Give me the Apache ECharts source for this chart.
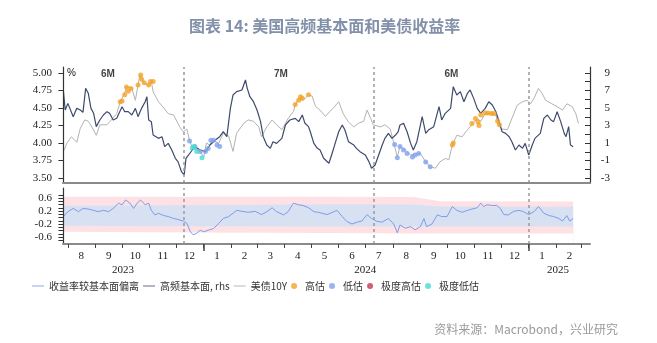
<!DOCTYPE html>
<html><head><meta charset="utf-8">
<script src="https://cdn.jsdelivr.net/npm/echarts@6/dist/echarts.min.js"></script>
<style>html,body{margin:0;padding:0;background:#fff}#c{width:657px;height:343px}</style>
</head><body><div id="c"></div>
<script>
// ---------- data (days counted from BASE date) ----------
const BASE = '2023-07-27';
const tenYDays = [0,4,9,15,19,24,28,32,37,41,49,54,60,64,69,71,77,81,84,86,91,96,99,101,107,113,118,124,131,135,139,142,146,154,158,161,165,167,175,180,186,191,195,203,208,214,220,223,229,235,240,246,253,259,261,265,270,276,280,284,289,295,300,304,310,315,321,327,332,338,342,346,349,357,362,368,372,376,379,385,391,398,402,408,413,419,424,430,434,438,443,449,455,460,466,470,475,481,487,490,494,500,505,511,517,522,526,530,535,539,543,550,556,562,567,573,577,580];
const tenYVals = [3.88,4.00,4.09,4.01,4.21,4.33,4.31,4.23,4.11,4.26,4.26,4.33,4.42,4.59,4.71,4.80,4.78,4.61,4.83,4.97,4.85,4.83,4.88,4.73,4.59,4.50,4.42,4.40,4.23,4.16,4.20,4.03,3.92,3.88,3.80,4.00,3.97,4.04,4.00,4.14,4.10,3.88,4.14,4.28,4.33,4.31,4.23,4.09,4.23,4.33,4.26,4.19,4.35,4.45,4.54,4.64,4.61,4.69,4.67,4.52,4.47,4.38,4.45,4.50,4.59,4.42,4.30,4.23,4.28,4.31,4.47,4.35,4.26,4.23,4.26,4.20,4.00,3.80,3.95,3.90,3.83,3.85,3.85,3.73,3.66,3.64,3.73,3.78,3.76,3.97,4.11,4.09,4.19,4.26,4.35,4.31,4.42,4.42,4.40,4.26,4.20,4.19,4.35,4.54,4.59,4.61,4.56,4.64,4.78,4.71,4.61,4.56,4.52,4.47,4.56,4.52,4.42,4.28];
const fundDays = [0,2,5,11,15,19,22,25,28,31,34,37,41,45,49,52,56,60,66,69,73,77,81,84,88,92,94,96,99,101,107,111,114,118,122,126,129,133,136,138,141,145,148,154,160,165,171,176,180,184,188,191,195,201,205,207,210,214,218,222,225,229,233,236,240,246,250,255,261,265,269,272,276,278,282,286,289,293,299,302,306,310,314,317,321,327,330,334,340,344,347,351,355,359,362,366,370,374,377,379,383,387,391,394,398,404,408,411,417,423,426,430,436,439,443,447,451,455,458,462,466,470,475,479,483,487,490,494,498,502,505,509,513,517,520,524,528,531,537,541,545,549,552,556,560,564,566,569,571,574];
const fundVals = [6.87,4.77,5.53,4.00,4.96,4.77,4.50,7.25,6.68,4.96,4.39,2.87,3.63,4.20,4.58,4.39,3.63,3.82,5.15,4.58,4.58,4.20,4.96,4.01,4.96,5.72,6.29,3.63,3.44,1.91,1.53,1.72,0.58,0.96,0.20,-0.75,-1.13,-2.28,-2.66,-0.75,-0.37,0.20,0.58,0.20,0.01,0.77,1.34,1.72,2.29,1.72,4.96,6.49,6.87,7.06,8.20,7.25,6.29,5.72,4.77,3.44,1.72,0.77,0.39,1.15,0.96,1.53,3.06,3.63,3.82,3.44,4.20,3.25,2.87,2.29,0.96,0.39,0.20,-0.75,-1.32,-0.37,0.96,2.29,3.06,2.48,1.15,0.77,0.39,0.01,-0.37,-1.13,-1.89,-1.51,-0.37,0.77,1.53,2.10,1.53,1.91,2.29,3.06,3.25,2.29,0.96,0.20,1.15,4.01,2.10,2.48,2.87,5.15,3.63,4.39,4.96,7.44,6.49,6.87,5.72,6.68,7.06,6.10,4.96,4.39,4.96,5.72,5.34,4.58,3.63,2.29,2.10,1.72,1.15,0.20,0.77,0.39,0.96,-0.37,0.77,1.53,2.10,3.82,4.20,3.63,3.44,4.58,3.44,2.10,1.72,2.87,0.77,0.58];
const devDays = [0,5,11,17,22,28,34,39,45,51,56,62,66,70,75,79,83,87,92,96,99,103,107,113,118,124,129,135,139,143,146,150,154,158,163,169,175,180,186,191,195,201,208,216,223,229,235,240,248,253,259,265,270,276,282,287,289,297,308,314,319,325,331,336,342,347,353,359,366,372,376,379,385,391,396,402,406,409,415,421,426,432,438,443,449,455,460,466,470,473,477,483,488,492,496,501,507,513,518,524,530,535,541,547,552,558,562,567,570,574];
const devVals = [0.03,0.18,0.28,0.18,0.28,0.26,0.22,0.18,0.22,0.18,0.28,0.44,0.39,0.54,0.44,0.28,0.44,0.54,0.39,0.44,0.22,0.08,0.13,0.06,0.03,-0.03,-0.06,-0.11,-0.18,-0.44,-0.53,-0.49,-0.39,-0.44,-0.39,-0.34,-0.18,-0.03,0.03,0.13,0.22,0.19,0.16,0.19,0.09,0.18,0.30,0.18,0.08,0.18,0.44,0.39,0.37,0.30,0.18,0.16,0.13,0.09,0.22,0.03,-0.12,-0.20,-0.14,-0.11,0.09,-0.03,-0.12,-0.14,-0.03,-0.20,-0.47,-0.23,-0.33,-0.28,-0.38,-0.28,-0.03,-0.28,-0.20,0.08,0.03,0.03,0.34,0.22,0.16,0.22,0.26,0.30,0.44,0.34,0.39,0.37,0.37,0.28,0.09,0.08,0.19,0.22,0.18,0.09,0.18,0.34,0.13,0.06,0.03,-0.03,-0.11,0.06,-0.11,-0.03];
const bandDays = [0,150,300,394,424,574];
const pinkTop = [0.64,0.64,0.64,0.63,0.50,0.49];
const blueTop = [0.36,0.38,0.41,0.40,0.34,0.33];
const blueBot = [-0.25,-0.27,-0.28,-0.28,-0.28,-0.28];
const pinkBot = [-0.44,-0.46,-0.48,-0.49,-0.49,-0.49];
const highDays = [64,66,69,71,73,76,84,87,88,91,96,98,101,261,265,267,269,276,438,439,460,464,467,468,470,475,478,482,485,489,491];
const highVals = [4.59,4.60,4.69,4.80,4.74,4.78,4.83,4.97,4.91,4.86,4.83,4.88,4.88,4.55,4.61,4.66,4.64,4.69,3.97,4.00,4.28,4.35,4.30,4.25,4.40,4.43,4.43,4.42,4.42,4.31,4.26];
const lowDays = [142,148,154,160,163,166,169,173,176,373,376,379,383,387,393,396,400,408,413];
const lowVals = [4.03,3.95,3.88,3.88,3.92,4.04,4.04,3.97,3.95,3.98,3.79,3.95,3.90,3.85,3.80,3.83,3.85,3.73,3.66];
const xHighDays = [];
const xHighVals = [];
const xLowDays = [145,147,150,156];
const xLowVals = [3.93,3.95,3.88,3.79];
const regimeBreaks = ['2023-12-09','2024-07-10','2025-01-01'];
const regimeLabels = ['6M','7M','6M'];
const regimeLabelDates = ['2023-09-15','2024-03-28','2024-10-06'];
const monthStarts = ['2023-08-01','2023-09-01','2023-10-01','2023-11-01','2023-12-01','2024-01-01','2024-02-01','2024-03-01','2024-04-01','2024-05-01','2024-06-01','2024-07-01','2024-08-01','2024-09-01','2024-10-01','2024-11-01','2024-12-01','2025-01-01','2025-02-01','2025-03-01'];
const yearStarts = ['2024-01-01','2025-01-01'];
const yearLabelDates = ['2023-10-02','2024-07-01','2025-02-03'];
const leftTicks = [3.5,3.75,4,4.25,4.5,4.75,5];
const rightLabels = [-3,-1,1,3,5,7,9];
const rightTicks = [-3,-2,-1,0,1,2,3,4,5,6,7,8,9];
const devLabels = [-0.6,-0.2,0.2,0.6];
const devTicks = [-0.7,-0.6,-0.5,-0.4,-0.3,-0.2,-0.1,0,0.1,0.2,0.3,0.4,0.5,0.6,0.7];

// ---------- helpers (x axis is "days since BASE") ----------
const DAY = 86400000;
const t = s => { const [y,m,d] = s.split('-').map(Number); return Date.UTC(y, m-1, d); };
const T0 = t(BASE);
const dd = s => (t(s) - T0) / DAY;
const toDate = v => new Date(T0 + v * DAY);
const pts = (days, vals) => days.map((d,i) => [d, vals[i]]);
const XMIN = -0.5, XMAX = 593;
const serif = 'Liberation Serif';
const midMonth = monthStarts.slice(0,-1).map(s => dd(s) + 15);

const C_NAVY = '#3d4a6b', C_GRAY = '#b3b3b3', C_DEV = '#7d9de8';
const C_HIGH = '#f5a126', C_LOW = '#7fa3ee', C_XHIGH = '#c23a50', C_XLOW = '#45dcd4';
const C_PINK = '#fde1e4', C_BLUE = '#d7e1f2';

const markLines = {
  silent: true, symbol: 'none', label: {show: false},
  lineStyle: {color: '#9a9a9a', type: [3, 3], width: 1.5},
  data: regimeBreaks.map(s => ({xAxis: dd(s)}))
};

// band layers: each fills down to the axis start; later layers paint over earlier ones
const bandLayer = (name, vals, color, z) => ({
  name, type: 'line', xAxisIndex: 1, yAxisIndex: 2, symbol: 'none', silent: true, z,
  lineStyle: {width: 0, opacity: 0},
  areaStyle: {color, opacity: 1, origin: 'start'},
  data: pts(bandDays, vals)
});

const xBase = {type: 'value', min: XMIN, max: XMAX, splitLine: {show: false}, position: 'bottom', z: 10};
const LINE_ICON = 'path://M0 0H30V4H0Z';

const option = {
  animation: false,
  backgroundColor: '#fff',
  title: [
    {text: '图表 14: 美国高频基本面和美债收益率', left: 184, top: 13,
     textStyle: {fontSize: 16, fontWeight: 'bold', color: '#8291a9', fontFamily: 'Noto Sans CJK SC'}},
    {text: '资料来源：Macrobond，兴业研究', right: 34, top: 318,
     textStyle: {fontSize: 12, fontWeight: 'normal', color: '#9a9a9a', fontFamily: 'Noto Sans CJK SC'}}
  ],
  graphic: [{type: 'text', left: 67, top: 68, style: {text: '%', fontSize: 10, fill: '#111', fontFamily: 'Liberation Sans'}}],
  legend: {
    left: 27, top: 276, itemWidth: 12, itemHeight: 6, itemGap: 4,
    textStyle: {fontSize: 10, color: '#333', fontFamily: 'Noto Sans CJK SC'},
    data: [
      {name: '收益率较基本面偏离', icon: LINE_ICON, itemStyle: {color: '#b8c8f2'}},
      {name: '高频基本面, rhs', icon: LINE_ICON, itemStyle: {color: '#9ea4b6'}},
      {name: '美债10Y', icon: LINE_ICON, itemStyle: {color: '#d2d2d2'}},
      {name: '高估', icon: 'circle'},
      {name: '低估', icon: 'circle'},
      {name: '极度高估', icon: 'circle'},
      {name: '极度低估', icon: 'circle'}
    ]
  },
  grid: [
    {left: 63, right: 67, top: 67, height: 116},
    {left: 63, right: 67, top: 188, height: 56}
  ],
  xAxis: [
    Object.assign({}, xBase, {gridIndex: 0,
     axisLine: {show: true, onZero: false, lineStyle: {color: '#8a8a8a', width: 2}},
     axisTick: {show: false}, axisLabel: {show: false}}),
    Object.assign({}, xBase, {gridIndex: 1,
     axisLine: {show: true, onZero: false, lineStyle: {color: '#8a8a8a', width: 2}},
     axisTick: {show: true, length: 4, customValues: monthStarts.map(dd), lineStyle: {color: '#444', width: 1}},
     axisLabel: {show: true, customValues: midMonth, margin: 7, fontSize: 11, fontFamily: serif, color: '#222',
       formatter: v => String(toDate(v).getUTCMonth() + 1)}}),
    Object.assign({}, xBase, {gridIndex: 1,
     axisLine: {show: false, onZero: false},
     axisTick: {show: true, length: 7, customValues: yearStarts.map(dd), lineStyle: {color: '#444', width: 1.5}},
     axisLabel: {show: true, customValues: yearLabelDates.map(dd), margin: 21, fontSize: 11, fontFamily: serif, color: '#222',
       formatter: v => String(toDate(v).getUTCFullYear())}})
  ],
  yAxis: [
    {type: 'value', gridIndex: 0, position: 'left', min: 3.4286, max: 5.0857, z: 10,
     axisLine: {show: true, lineStyle: {color: '#333', width: 1.2}},
     axisTick: {show: true, length: 5, customValues: leftTicks, lineStyle: {color: '#333'}},
     axisLabel: {customValues: leftTicks, margin: 11, fontSize: 11, fontFamily: serif, color: '#222', formatter: v => v.toFixed(2)},
     splitLine: {show: false}},
    {type: 'value', gridIndex: 0, position: 'right', min: -3.5714, max: 9.6857, z: 10,
     axisLine: {show: true, lineStyle: {color: '#333', width: 1.2}},
     axisTick: {show: true, inside: true, length: 5, customValues: rightTicks, lineStyle: {color: '#333'}},
     axisLabel: {customValues: rightLabels, margin: 20, align: 'right', fontSize: 11, fontFamily: serif, color: '#222'},
     splitLine: {show: false}},
    {type: 'value', gridIndex: 1, position: 'left', min: -0.815, max: 0.908, z: 10,
     axisLine: {show: true, lineStyle: {color: '#333', width: 1.2}},
     axisTick: {show: true, length: 5, customValues: devTicks, lineStyle: {color: '#333'}},
     axisLabel: {customValues: devLabels, margin: 11, fontSize: 11, fontFamily: serif, color: '#222', formatter: v => v.toFixed(1)},
     splitLine: {show: false}}
  ],
  series: [
    {name: '美债10Y', type: 'line', xAxisIndex: 0, yAxisIndex: 0, symbol: 'none', z: 2,
     lineStyle: {color: C_GRAY, width: 1}, itemStyle: {color: C_GRAY},
     data: pts(tenYDays, tenYVals), markLine: markLines},
    {name: '高频基本面, rhs', type: 'line', xAxisIndex: 0, yAxisIndex: 1, symbol: 'none', z: 3,
     lineStyle: {color: C_NAVY, width: 1.2}, itemStyle: {color: C_NAVY},
     data: pts(fundDays, fundVals)},
    {name: '高估', type: 'scatter', xAxisIndex: 0, yAxisIndex: 0, symbolSize: 5, z: 5,
     itemStyle: {color: C_HIGH}, data: pts(highDays, highVals)},
    {name: '低估', type: 'scatter', xAxisIndex: 0, yAxisIndex: 0, symbolSize: 5, z: 5,
     itemStyle: {color: C_LOW}, data: pts(lowDays, lowVals)},
    {name: '极度高估', type: 'scatter', xAxisIndex: 0, yAxisIndex: 0, symbolSize: 5, z: 5,
     itemStyle: {color: C_XHIGH}, data: pts(xHighDays, xHighVals)},
    {name: '极度低估', type: 'scatter', xAxisIndex: 0, yAxisIndex: 0, symbolSize: 5, z: 6,
     itemStyle: {color: C_XLOW}, data: pts(xLowDays, xLowVals)},
    {name: 'regime', type: 'scatter', xAxisIndex: 0, yAxisIndex: 0, symbolSize: 1, silent: true, z: 7,
     itemStyle: {color: 'rgba(0,0,0,0)'},
     label: {show: true, position: 'inside', formatter: '{b}', fontSize: 10, fontWeight: 'bold', color: '#111', fontFamily: 'Liberation Sans'},
     data: regimeLabelDates.map((s, i) => ({name: regimeLabels[i], value: [dd(s), 4.985]}))},
    bandLayer('bandPinkTop', pinkTop, C_PINK, 1),
    bandLayer('bandBlueTop', blueTop, C_BLUE, 1),
    bandLayer('bandBlueBot', blueBot, C_PINK, 1),
    bandLayer('bandPinkBot', pinkBot, '#ffffff', 1),
    {name: '收益率较基本面偏离', type: 'line', xAxisIndex: 1, yAxisIndex: 2, symbol: 'none', z: 4,
     lineStyle: {color: C_DEV, width: 1}, itemStyle: {color: C_DEV},
     data: pts(devDays, devVals), markLine: markLines}
  ]
};
echarts.init(document.getElementById('c'), null, {renderer: 'canvas'}).setOption(option);
</script></body></html>
